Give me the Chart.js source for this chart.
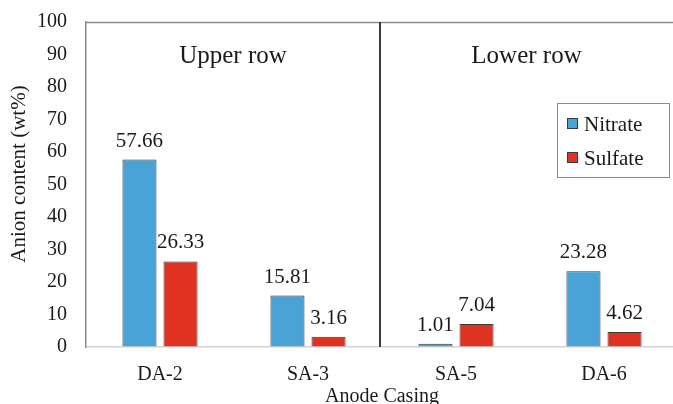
<!DOCTYPE html>
<html>
<head>
<meta charset="utf-8">
<script src="https://cdn.jsdelivr.net/npm/chart.js@4"></script>
<style>
html,body{margin:0;padding:0;background:#fff;overflow:hidden;}
#wrap{position:absolute;left:0;top:0;width:680px;height:404px;}
</style>
</head>
<body>
<div id="wrap"><canvas id="c"></canvas></div>
<script>
const categories = ['DA-2', 'SA-3', 'SA-5', 'DA-6'];
const seriesNames = ['Nitrate', 'Sulfate'];
const nitrate = [57.66, 15.81, 1.01, 23.28];
const sulfate = [26.33, 3.16, 7.04, 4.62];
const yMin = 0, yMax = 100, yStep = 10;
const groupLabels = ['Upper row', 'Lower row'];
const xTitle = 'Anode Casing';
const yTitle = 'Anion content (wt%)';

const SERIF = "'Liberation Serif', 'Times New Roman', serif";
const BLUE = '#4aa3d6';
const RED = '#df3221';

const overlay = {
  id: 'overlay',
  afterDatasetsDraw(chart) {
    const ctx = chart.ctx;
    const a = chart.chartArea;
    const x = chart.scales.x;
    ctx.save();
    // top frame line
    ctx.strokeStyle = '#8c8c8c';
    ctx.lineWidth = 1.5;
    ctx.beginPath();
    ctx.moveTo(a.left, a.top + 0.5);
    ctx.lineTo(chart.width, a.top + 0.5);
    ctx.stroke();
    // separator between groups
    const sep = (x.getPixelForTick(1) + x.getPixelForTick(2)) / 2 - 2;
    ctx.strokeStyle = '#3c3c3c';
    ctx.lineWidth = 2;
    ctx.beginPath();
    ctx.moveTo(sep, a.top);
    ctx.lineTo(sep, a.bottom);
    ctx.stroke();
    // group labels
    ctx.fillStyle = '#1a1a1a';
    ctx.font = '25px ' + SERIF;
    ctx.textAlign = 'center';
    ctx.textBaseline = 'alphabetic';
    ctx.fillText(groupLabels[0], (a.left + sep) / 2, a.top + 41);
    ctx.fillText(groupLabels[1], (sep + 673) / 2, a.top + 41);
    // data labels
    ctx.font = '21px ' + SERIF;
    chart.data.datasets.forEach((ds, i) => {
      const meta = chart.getDatasetMeta(i);
      meta.data.forEach((bar, j) => {
        ctx.fillText(ds.data[j].toFixed(2), bar.x, bar.y - 13);
      });
    });
    // legend
    const lx = 557, ly = 103, lw = 112, lh = 74;
    ctx.fillStyle = '#ffffff';
    ctx.fillRect(lx, ly, lw, lh);
    ctx.strokeStyle = '#8c8c8c';
    ctx.lineWidth = 1;
    ctx.strokeRect(lx + 0.5, ly + 0.5, lw, lh);
    ctx.textAlign = 'left';
    ctx.font = '21px ' + SERIF;
    chart.data.datasets.forEach((ds, i) => {
      const cy = ly + 21 + i * 34;
      ctx.fillStyle = ds.backgroundColor;
      ctx.fillRect(567, cy - 6, 11, 11);
      ctx.strokeStyle = '#3a3a3a';
      ctx.strokeRect(567.5, cy - 5.5, 10, 10);
      ctx.fillStyle = '#1a1a1a';
      ctx.fillText(ds.label, 584, cy + 7);
    });
    ctx.restore();
  }
};

new Chart(document.getElementById('c'), {
  type: 'bar',
  data: {
    labels: categories,
    datasets: [
      { label: seriesNames[0], data: nitrate, backgroundColor: BLUE, borderColor: '#3a3a3a', borderWidth: 1 },
      { label: seriesNames[1], data: sulfate, backgroundColor: RED, borderColor: '#3a3a3a', borderWidth: 1 }
    ]
  },
  options: {
    responsive: true,
    maintainAspectRatio: false,
    devicePixelRatio: 1,
    animation: false,
    categoryPercentage: 0.555,
    barPercentage: 0.83,
    layout: { padding: { top: 22, right: 2, left: 0, bottom: 0 } },
    plugins: { legend: { display: false }, tooltip: { enabled: false } },
    scales: {
      x: {
        grid: { display: false, drawTicks: false },
        border: { display: true, color: '#d4d4d4', width: 1.5 },
        ticks: { color: '#1a1a1a', font: { family: SERIF, size: 20 }, padding: 16, maxRotation: 0 },
        title: { display: true, text: xTitle, color: '#1a1a1a', font: { family: SERIF, size: 20, lineHeight: 1 }, padding: { top: 0, bottom: -3 } },
        afterFit(s) { s.height = 57; }
      },
      y: {
        min: yMin, max: yMax,
        grid: { display: true, color: 'rgba(0,0,0,0)', drawTicks: true, tickLength: 19, tickColor: 'rgba(0,0,0,0)' },
        border: { display: true, color: '#8c8c8c', width: 1.5 },
        ticks: { stepSize: yStep, color: '#1a1a1a', font: { family: SERIF, size: 20 }, padding: 0 },
        title: { display: true, text: '    ' + yTitle, color: '#1a1a1a', font: { family: SERIF, size: 21 }, padding: { top: 7, bottom: 0 } },
        afterFit(s) { s.width = 86; }
      }
    }
  },
  plugins: [overlay]
});
</script>
</body>
</html>
